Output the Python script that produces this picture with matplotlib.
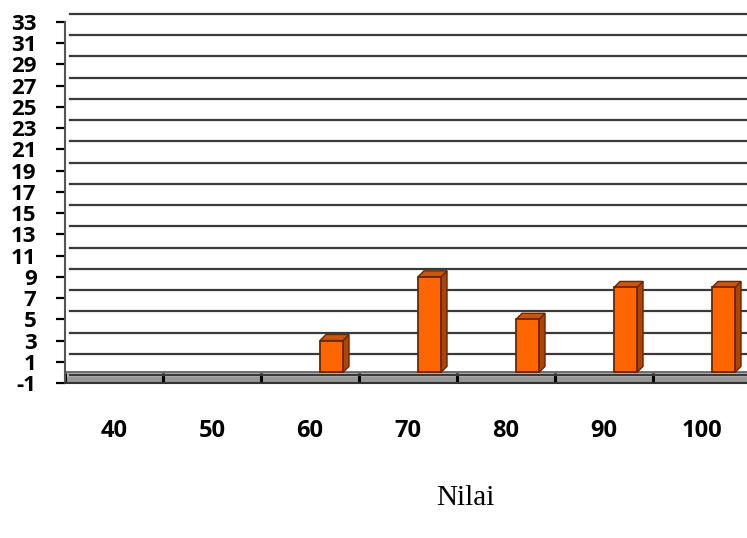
import matplotlib
matplotlib.use("Agg")
import matplotlib.pyplot as plt
import numpy as np
from matplotlib.patches import Polygon
from matplotlib.transforms import ScaledTranslation, IdentityTransform

plt.rcParams["axes.unicode_minus"] = False

categories = ["40", "50", "60", "70", "80", "90", "100"]
values = [0, 0, 3, 9, 5, 8, 8]
y_ticks = list(range(-1, 34, 2))
x_title = "Nilai"

DPI = 100
fig = plt.figure(figsize=(7.47, 5.38), dpi=DPI)
W, H = 747, 538
left_px, right_px, top_px, bot_px = 65, 751, 22, 383
ax = fig.add_axes([left_px / W, 1 - bot_px / H, (right_px - left_px) / W, (bot_px - top_px) / H])

x = np.arange(len(categories))
ax.set_xlim(-0.5, len(categories) - 0.5)
ax.set_ylim(-1, 33)

# floor
ax.axhspan(-1, 0, color="#b8b8b8", zorder=0.2, lw=0)
ax.axhspan(-1, -0.45, color="#979797", zorder=0.3, lw=0)
ax.axhline(0, color="#5a5a5a", lw=1.2, zorder=0.4)

# gridlines on back wall (shifted for 3D look)
ax.set_yticks(y_ticks)
ax.yaxis.grid(True, color="#3a3a3a", lw=1.6)
ax.set_axisbelow(True)
shift = ScaledTranslation(5 / DPI, 8 / DPI, fig.dpi_scale_trans)
for gl in ax.get_ygridlines():
    gl.set_transform(gl.get_transform() + shift)
    gl.set_clip_on(False)

# bars (front faces shifted toward the back of the category)
bar_shift = ScaledTranslation(21.5 / DPI, 0, fig.dpi_scale_trans)
front = "#FF6600"
edge = "#6B2600"
side = "#A8460C"
topc = "#C9570F"
bars = ax.bar(x, values, width=0.235, color=front, edgecolor=edge, lw=1.3, zorder=3)
dx, dy = 6, 6
for b, v in zip(bars, values):
    b.set_transform(ax.transData + bar_shift)
    if v == 0:
        b.set_visible(False)
        continue
    bb = b.get_window_extent()
    x0, x1 = bb.x0, bb.x1
    y0, y1 = bb.y0, bb.y1
    side_poly = Polygon([(x1, y0), (x1 + dx, y0 + dy), (x1 + dx, y1 + dy), (x1, y1)],
                        closed=True, facecolor=side, edgecolor=edge, lw=1.0,
                        transform=IdentityTransform(), zorder=2.9)
    top_poly = Polygon([(x0, y1), (x0 + dx, y1 + dy), (x1 + dx, y1 + dy), (x1, y1)],
                       closed=True, facecolor=topc, edgecolor=edge, lw=1.0,
                       transform=IdentityTransform(), zorder=2.9)
    ax.add_patch(side_poly)
    ax.add_patch(top_poly)

# spines
for s in ["top", "right"]:
    ax.spines[s].set_visible(False)
ax.spines["left"].set_color("#555555")
ax.spines["left"].set_linewidth(1.5)
ax.spines["bottom"].set_color("#333333")
ax.spines["bottom"].set_linewidth(1.5)

# ticks
ax.set_xticks(x)
ax.set_xticklabels(categories)
ax.set_xticks(np.arange(-0.5, len(categories), 1), minor=True)
ax.tick_params(axis="x", which="major", length=0, pad=26)
ax.tick_params(axis="x", which="minor", direction="in", length=7, width=2.2, color="black")
ax.tick_params(axis="y", direction="out", length=6.5, width=1.6, color="black", pad=14)

for lab in ax.get_xticklabels():
    lab.set_fontfamily("Open Sans")
    lab.set_fontweight("bold")
    lab.set_fontsize(17)
    lab.set_color("black")
for lab in ax.get_yticklabels():
    lab.set_fontfamily("Open Sans")
    lab.set_fontweight("bold")
    lab.set_fontsize(16)
    lab.set_color("black")

fig.text(465 / W, 1 - 498 / H, x_title, ha="center", va="center",
         family="Liberation Serif", fontsize=21)

fig.savefig("out.png", dpi=DPI)
